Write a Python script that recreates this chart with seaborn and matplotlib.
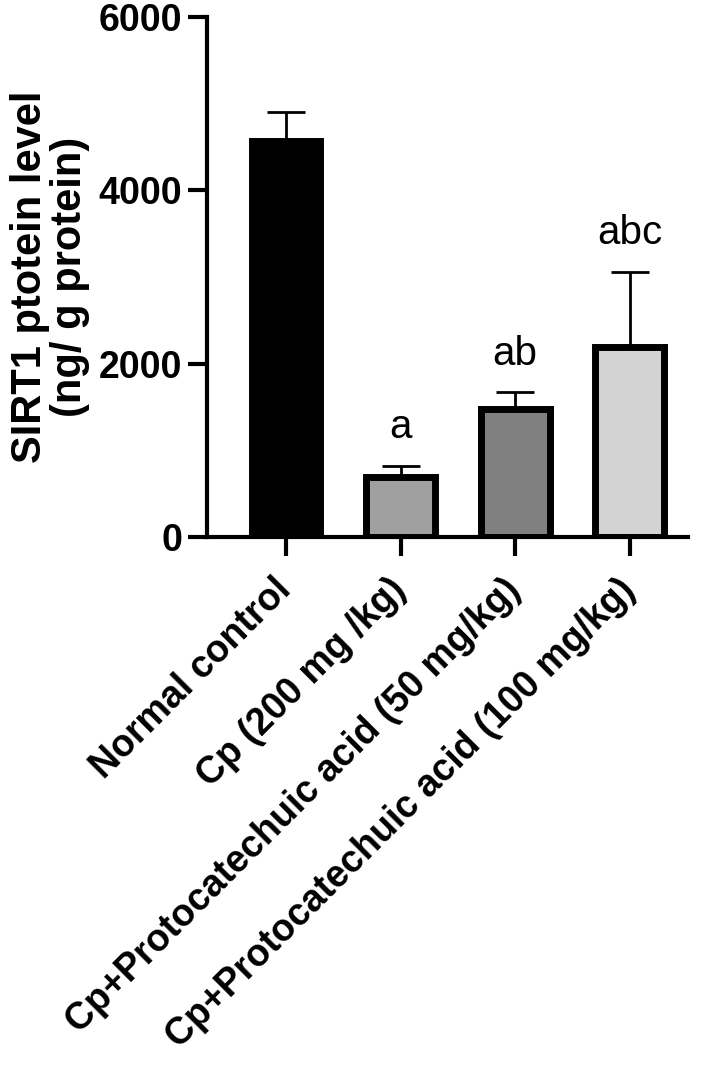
import numpy as np
import pandas as pd
import matplotlib
matplotlib.use("Agg")
import matplotlib.pyplot as plt
import seaborn as sns

# données
groups = ["Normal control", "Cp (200 mg /kg)",
          "Cp+Protocatechuic acid (50 mg/kg)",
          "Cp+Protocatechuic acid (100 mg/kg)"]
means = [4570, 700, 1480, 2200]
errors = [340, 120, 190, 860]
letters = ["", "a", "ab", "abc"]
colors = ["#000000", "#a0a0a0", "#808080", "#d3d3d3"]

df = pd.DataFrame({"group": groups, "value": means})

sns.set_style("ticks")
plt.rcParams['font.family'] = ['Liberation Sans', 'DejaVu Sans']
plt.rcParams.update({"text.color": "black", "axes.labelcolor": "black",
                     "xtick.color": "black", "ytick.color": "black",
                     "axes.edgecolor": "black"})

fig = plt.figure(figsize=(7.11, 10.66), dpi=100)
ax = fig.add_axes([0.291, 0.496, 0.677, 0.488])

# barres d'erreur (seulement vers le haut), dessinées sous les barres
x = np.arange(len(groups))
ax.errorbar(x, means, yerr=[np.zeros(len(errors)), errors], fmt="none",
            ecolor="black", elinewidth=2, capsize=14, capthick=2, zorder=1)

sns.barplot(data=df, x="group", y="value", hue="group", palette=colors,
            legend=False, width=0.6, edgecolor="black", linewidth=5,
            ax=ax, zorder=2)

# lettres de significativité
for i in range(len(groups)):
    if letters[i]:
        ax.annotate(letters[i], (x[i], means[i] + errors[i]),
                    xytext=(0, 20), textcoords="offset points",
                    ha="center", va="baseline", fontsize=29)

ax.set_ylim(0, 6000)
ax.set_xlim(-0.69, 3.51)
ax.set_yticks([0, 2000, 4000, 6000])
ax.set_ylabel("SIRT1 ptotein level\n(ng/ g protein)", fontsize=30,
              fontweight="bold", labelpad=6, linespacing=1.0)
ax.set_xlabel("")

for s in ["top", "right"]:
    ax.spines[s].set_visible(False)
for s in ["left", "bottom"]:
    ax.spines[s].set_linewidth(3)

ax.tick_params(axis="both", length=14, width=3, labelsize=27)
ax.tick_params(axis="y", pad=4)
ax.tick_params(axis="x", pad=20)
ax.set_xticks(x)
ax.set_xticklabels(groups, rotation=45, ha="right", va="center",
                   rotation_mode="anchor", fontweight="bold", fontsize=27)
for lab in ax.get_yticklabels():
    lab.set_fontweight("bold")

fig.savefig("out.png", dpi=100)
